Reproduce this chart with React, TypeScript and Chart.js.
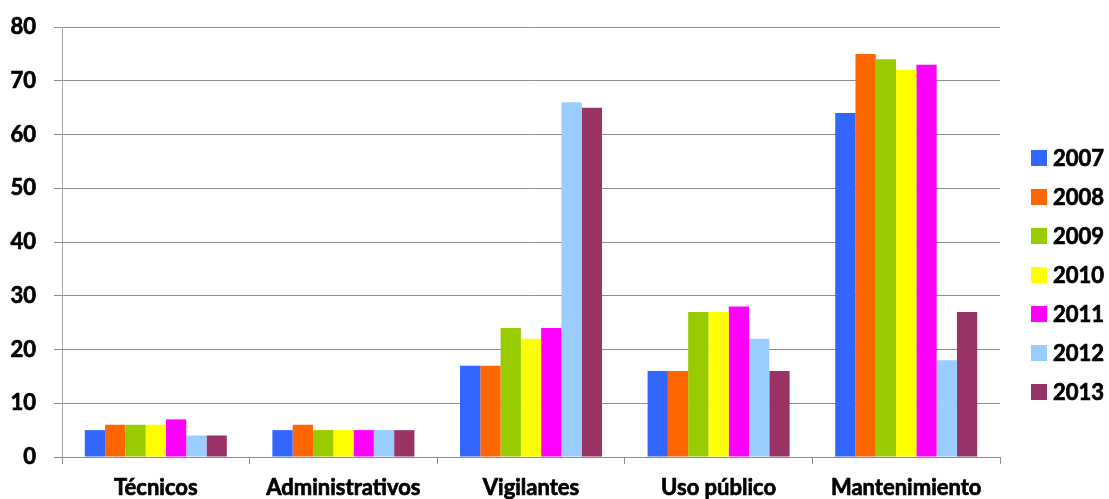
import React, { useEffect, useRef } from "react";
import { Chart, registerables } from "chart.js";

Chart.register(...registerables);

const categories = ["Técnicos", "Administrativos", "Vigilantes", "Uso público", "Mantenimiento"];
const years = ["2007", "2008", "2009", "2010", "2011", "2012", "2013"];
const s2007 = [5, 5, 17, 16, 64];
const s2008 = [6, 6, 17, 16, 75];
const s2009 = [6, 5, 24, 27, 74];
const s2010 = [6, 5, 22, 27, 72];
const s2011 = [7, 5, 24, 28, 73];
const s2012 = [4, 5, 66, 22, 18];
const s2013 = [4, 5, 65, 16, 27];
const seriesValues = [s2007, s2008, s2009, s2010, s2011, s2012, s2013];
const colors = ["#3366FF", "#FF6600", "#99CC00", "#FFFF00", "#FF00FF", "#99CCFF", "#993366"];

const FONT = "Lato, 'Open Sans', sans-serif";
const STROKE = 0.7;

const legendPlugin = {
  id: "customLegend",
  afterDraw(chart: any) {
    const ctx = chart.ctx;
    const area = chart.chartArea;
    const x0 = area.right + 31;
    const y0 = 150;
    ctx.save();
    ctx.font = `bold 22px ${FONT}`;
    ctx.textBaseline = "middle";
    ctx.textAlign = "left";
    ctx.lineWidth = STROKE;
    ctx.strokeStyle = "#000";
    chart.data.datasets.forEach((ds: any, i: number) => {
      const y = y0 + i * 39;
      ctx.fillStyle = ds.backgroundColor;
      ctx.fillRect(x0, y, 16, 16);
      ctx.fillStyle = "#000";
      ctx.fillText(ds.label, x0 + 22, y + 9);
      ctx.strokeText(ds.label, x0 + 22, y + 9);
    });
    ctx.restore();
  },
};

export default function App() {
  const ref = useRef<HTMLCanvasElement>(null);
  useEffect(() => {
    document.body.style.margin = "0";
    const chart = new Chart(ref.current!, {
      type: "bar",
      data: {
        labels: categories,
        datasets: years.map((y, i) => ({
          label: y,
          data: seriesValues[i],
          backgroundColor: colors[i],
          borderWidth: 0,
          barPercentage: 1,
          categoryPercentage: 0.757,
        })),
      },
      options: {
        animation: false,
        responsive: true,
        maintainAspectRatio: false,
        layout: { padding: { top: 27, right: 109, left: 0, bottom: 0 } },
        plugins: { legend: { display: false }, tooltip: { enabled: false } },
        scales: {
          x: {
            offset: true,
            grid: { offset: true, drawOnChartArea: false, drawTicks: true, tickLength: 7, color: "#8c8c8c" },
            border: { color: "#8c8c8c" },
            ticks: {
              color: "#000",
              font: { family: FONT, size: 22, weight: "bold" },
              padding: 11,
              textStrokeColor: "#000",
              textStrokeWidth: STROKE,
            },
            afterFit: (s: any) => { s.height = 42; },
          },
          y: {
            min: 0,
            max: 80,
            ticks: {
              stepSize: 10,
              color: "#000",
              font: { family: FONT, size: 22, weight: "bold" },
              padding: 18,
              textStrokeColor: "#000",
              textStrokeWidth: STROKE,
            },
            grid: { color: "#8c8c8c", tickLength: 8 },
            border: { color: "#a6a6a6" },
            afterFit: (s: any) => { s.width = 62; s.paddingTop = 0; s.paddingBottom = 0; },
          },
        },
      },
      plugins: [legendPlugin],
    });
    return () => chart.destroy();
  }, []);
  return (
    <div style={{ width: 1109, height: 499, position: "relative" }}>
      <canvas ref={ref} />
    </div>
  );
}
